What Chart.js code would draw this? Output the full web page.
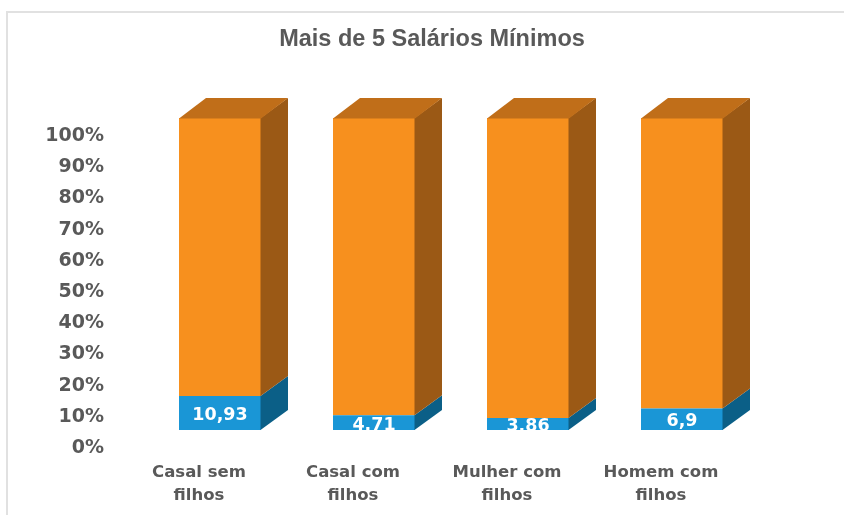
<!DOCTYPE html>
<html><head><meta charset="utf-8">
<script src="https://cdn.jsdelivr.net/npm/chart.js@4.4.1/dist/chart.umd.min.js"></script>
<style>
html,body{margin:0;padding:0;background:#fff;}
#wrap{position:relative;width:844px;height:515px;overflow:hidden;}
#frame{position:absolute;left:6px;top:11px;width:900px;height:600px;border:2px solid #e1e1e1;box-sizing:border-box;}
canvas{position:absolute;left:0;top:0;}
</style></head><body>
<div id="wrap"><div id="frame"></div><canvas id="c" width="844" height="515"></canvas></div>
<script>
const categories = [["Casal sem","filhos"],["Casal com","filhos"],["Mulher com","filhos"],["Homem com","filhos"]];
const maisDe5 = [10.93, 4.71, 3.86, 6.9];
const restante = [89.07, 95.29, 96.14, 93.1];
const tickLabels = ["0%","10%","20%","30%","40%","50%","60%","70%","80%","90%","100%"];
const titleText = "Mais de 5 Salários Mínimos";

const DX = 27, DY = -20;
const GRAY = '#595959';

const bar3d = {
  id: 'bar3d',
  afterLayout(chart) {
    const t = chart.titleBlock;
    if (t) { t.left = 105; t.right = 759; }
  },
  afterDatasetsDraw(chart) {
    const ctx = chart.ctx;
    const n = chart.data.datasets.length;
    ctx.save();
    chart.data.datasets.forEach((ds, di) => {
      const meta = chart.getDatasetMeta(di);
      meta.data.forEach(el => {
        const p = el.getProps(['x','y','base','width'], true);
        const l = p.x - p.width/2, r = p.x + p.width/2;
        const top = Math.min(p.y, p.base), bot = Math.max(p.y, p.base);
        ctx.fillStyle = ds.sideColor;
        ctx.beginPath();
        ctx.moveTo(r - 0.5, top); ctx.lineTo(r + DX, top + DY);
        ctx.lineTo(r + DX, bot + DY); ctx.lineTo(r - 0.5, bot);
        ctx.closePath(); ctx.fill();
        if (di === n - 1) {
          ctx.fillStyle = ds.topColor;
          ctx.beginPath();
          ctx.moveTo(l, top + 0.5); ctx.lineTo(r, top + 0.5);
          ctx.lineTo(r + DX, top + DY); ctx.lineTo(l + DX, top + DY);
          ctx.closePath(); ctx.fill();
        }
      });
    });
    const meta0 = chart.getDatasetMeta(0);
    meta0.data.forEach((el, i) => {
      const p = el.getProps(['x','y','base','width'], true);
      const l = p.x - p.width/2;
      const top = Math.min(p.y, p.base), bot = Math.max(p.y, p.base);
      ctx.save();
      ctx.beginPath(); ctx.rect(l, top, p.width, bot - top); ctx.clip();
      ctx.fillStyle = '#ffffff';
      ctx.font = 'bold 17.5px "DejaVu Sans"';
      ctx.textAlign = 'center';
      ctx.textBaseline = 'middle';
      ctx.fillText(String(maisDe5[i]).replace('.', ','), p.x, (top + bot)/2 + 2.5);
      ctx.restore();
    });
    ctx.restore();
  }
};

new Chart(document.getElementById('c'), {
  type: 'bar',
  data: {
    labels: categories,
    datasets: [
      { label: 'Mais de 5 SM', data: maisDe5, backgroundColor: '#1A96D6', sideColor: '#0B5F87', borderWidth: 0 },
      { label: 'Restante', data: restante, backgroundColor: '#F7901E', sideColor: '#9B5915', topColor: '#C06E19', borderWidth: 0 }
    ]
  },
  options: {
    responsive: false,
    animation: false,
    devicePixelRatio: 1,
    layout: { padding: { left: 40, right: 85, top: 0, bottom: 0 } },
    datasets: { bar: { categoryPercentage: 1, barPercentage: 82/154 } },
    plugins: {
      legend: { display: false },
      tooltip: { enabled: false },
      title: {
        display: true, text: titleText, color: GRAY,
        font: { family: '"Liberation Sans", Arial, sans-serif', size: 23.5, weight: 'bold', lineHeight: 1.2 },
        padding: { top: 25.9, bottom: 63.9 }
      }
    },
    scales: {
      x: {
        stacked: true,
        grid: { display: false, drawTicks: false },
        border: { display: false },
        ticks: {
          color: GRAY, padding: 31, labelOffset: -21, maxRotation: 0, autoSkip: false,
          font: { family: '"DejaVu Sans"', size: 16.5, weight: 'bold', lineHeight: 23/16.5 }
        },
        afterFit: s => { s.height = 85; }
      },
      y: {
        stacked: true, min: 0, max: 100,
        grid: { display: false, drawTicks: false },
        border: { display: false },
        ticks: {
          stepSize: 10, color: GRAY, padding: 39, labelOffset: 18,
          font: { family: '"DejaVu Sans"', size: 19, weight: 'bold' },
          callback: (v, i) => tickLabels[i]
        },
        afterFit: s => { s.width = 103; }
      }
    }
  },
  plugins: [bar3d]
});
</script>
</body></html>
